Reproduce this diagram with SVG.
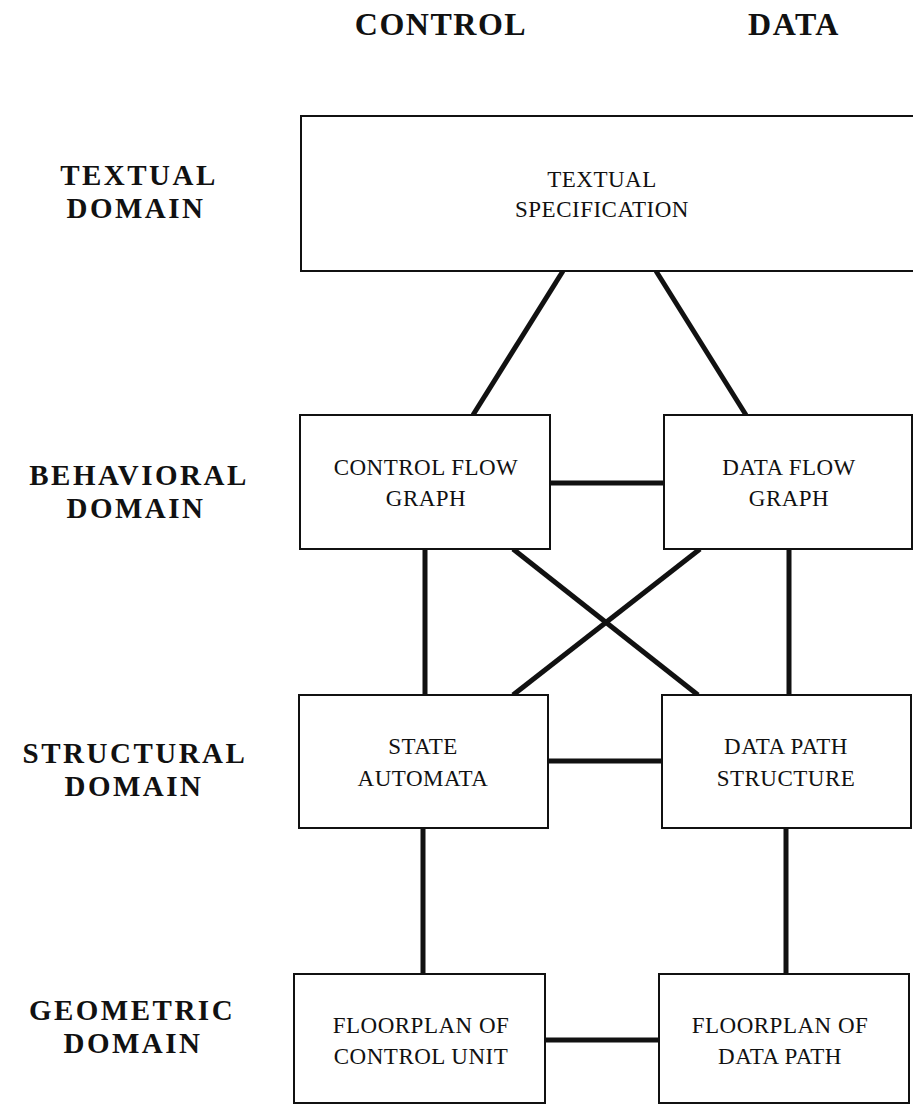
<svg xmlns="http://www.w3.org/2000/svg" width="913" height="1107" viewBox="0 0 913 1107">
  <style>
    .box { fill: #ffffff; stroke: #111111; stroke-width: 2; }
    .lbl { font-family: "Liberation Serif", "Times New Roman", serif; font-size: 23px; letter-spacing: 0.5px; fill: #111111; text-anchor: middle; }
    .row { font-family: "Liberation Serif", "Times New Roman", serif; font-size: 29px; font-weight: bold; letter-spacing: 2.5px; fill: #111111; text-anchor: middle; }
    .col { font-family: "Liberation Serif", "Times New Roman", serif; font-size: 32px; font-weight: bold; letter-spacing: 1.5px; fill: #111111; text-anchor: middle; }
    .conn line { stroke: #111111; stroke-width: 5; stroke-linecap: butt; }
  </style>
  <rect width="913" height="1107" fill="#ffffff"/>

  <!-- column headings -->
  <g id="headings">
    <text class="col" x="441" y="35">CONTROL</text>
    <text class="col" x="794" y="35">DATA</text>
  </g>

  <!-- row headings -->
  <g id="rows">
    <text class="row" x="139" y="185">TEXTUAL</text>
    <text class="row" x="136" y="218">DOMAIN</text>
    <text class="row" x="139" y="485">BEHAVIORAL</text>
    <text class="row" x="136" y="518">DOMAIN</text>
    <text class="row" x="135" y="763">STRUCTURAL</text>
    <text class="row" x="134" y="796">DOMAIN</text>
    <text class="row" x="132" y="1020">GEOMETRIC</text>
    <text class="row" x="133" y="1053">DOMAIN</text>
  </g>

  <!-- connectors -->
  <g id="connectors" class="conn">
    <line x1="563" y1="271" x2="473" y2="415"/>
    <line x1="656" y1="271" x2="746" y2="415"/>
    <line x1="550" y1="483" x2="664" y2="483"/>
    <line x1="425" y1="549" x2="425" y2="695"/>
    <line x1="789" y1="549" x2="789" y2="695"/>
    <line x1="513" y1="549" x2="698" y2="695"/>
    <line x1="700" y1="549" x2="513" y2="695"/>
    <line x1="548" y1="761" x2="662" y2="761"/>
    <line x1="423" y1="828" x2="423" y2="974"/>
    <line x1="786" y1="828" x2="786" y2="974"/>
    <line x1="545" y1="1040" x2="659" y2="1040"/>
  </g>

  <g id="textual-spec">
    <rect class="box" x="301" y="116" width="630" height="155"/>
    <text class="lbl" x="602" y="187">TEXTUAL</text>
    <text class="lbl" x="602" y="217">SPECIFICATION</text>
  </g>

  <g id="control-flow-graph">
    <rect class="box" x="300" y="415" width="250" height="134"/>
    <text class="lbl" x="426" y="475">CONTROL FLOW</text>
    <text class="lbl" x="426" y="506">GRAPH</text>
  </g>

  <g id="data-flow-graph">
    <rect class="box" x="664" y="415" width="248" height="134"/>
    <text class="lbl" x="789" y="475">DATA FLOW</text>
    <text class="lbl" x="789" y="506">GRAPH</text>
  </g>

  <g id="state-automata">
    <rect class="box" x="299" y="695" width="249" height="133"/>
    <text class="lbl" x="423" y="754">STATE</text>
    <text class="lbl" x="423" y="786">AUTOMATA</text>
  </g>

  <g id="data-path-structure">
    <rect class="box" x="662" y="695" width="249" height="133"/>
    <text class="lbl" x="786" y="754">DATA PATH</text>
    <text class="lbl" x="786" y="786">STRUCTURE</text>
  </g>

  <g id="floorplan-control">
    <rect class="box" x="294" y="974" width="251" height="129"/>
    <text class="lbl" x="421" y="1033">FLOORPLAN OF</text>
    <text class="lbl" x="421" y="1064">CONTROL UNIT</text>
  </g>

  <g id="floorplan-data">
    <rect class="box" x="659" y="974" width="250" height="129"/>
    <text class="lbl" x="780" y="1033">FLOORPLAN OF</text>
    <text class="lbl" x="780" y="1064">DATA PATH</text>
  </g>
</svg>
